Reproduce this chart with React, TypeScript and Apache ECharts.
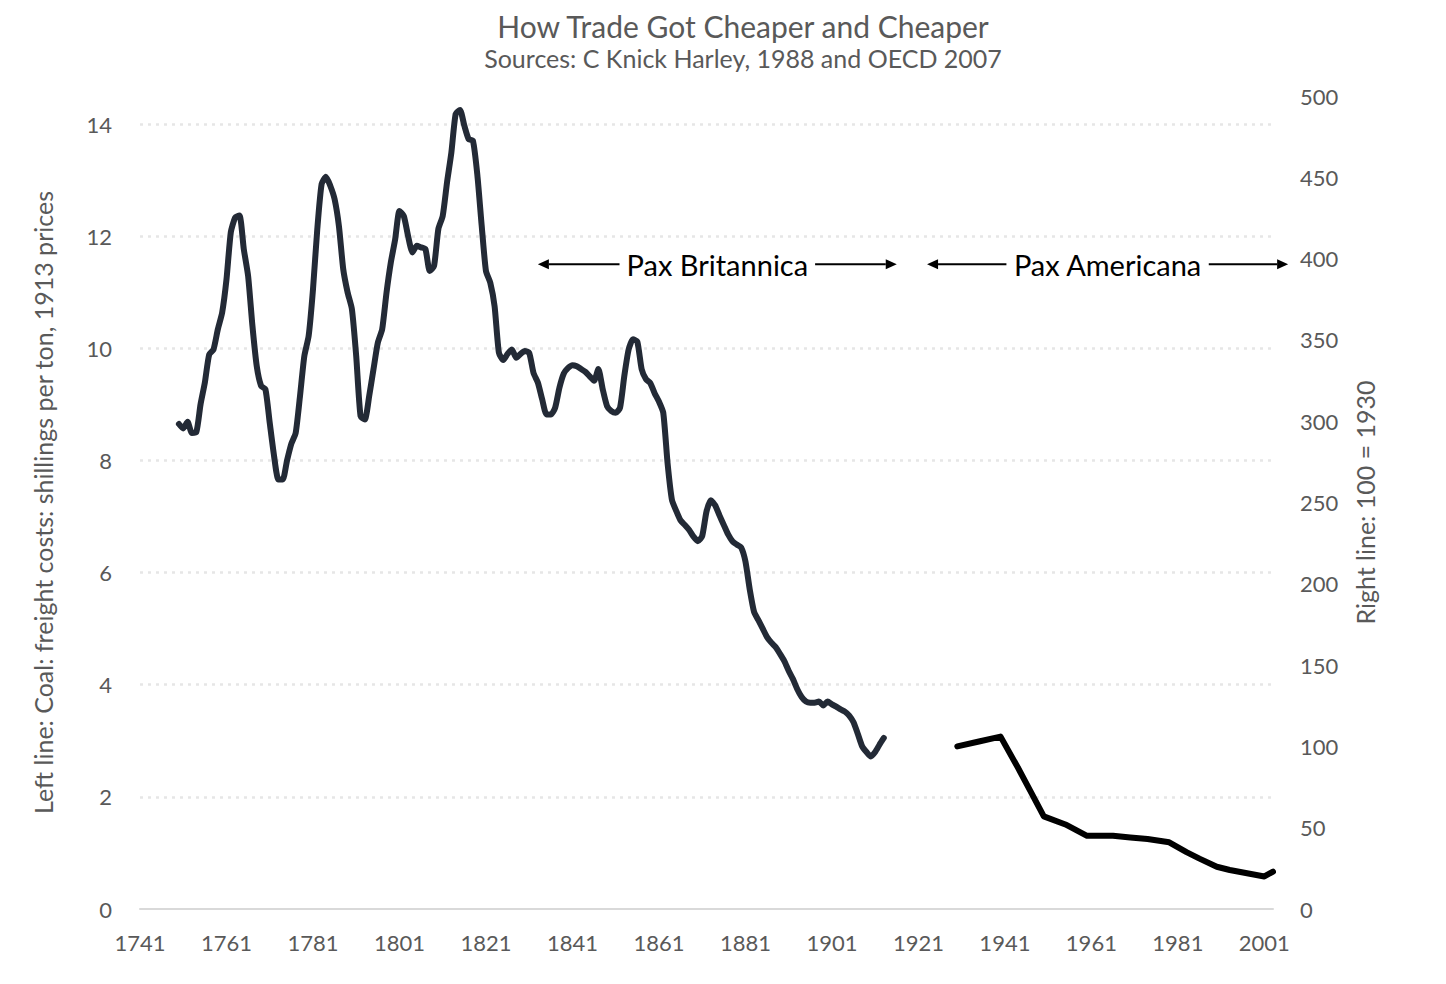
import { useEffect, useRef } from "react";
import * as echarts from "echarts";

const FONT = "Lato, 'Open Sans', sans-serif";
const GREY = "#595959";

// Coal freight costs (shillings per ton, 1913 prices), left axis
const coalYears = [
  1750, 1751, 1752, 1753, 1754, 1755, 1756, 1757, 1758, 1759,
  1760, 1761, 1762, 1763, 1764, 1765, 1766, 1767, 1768, 1769,
  1770, 1771, 1772, 1773, 1774, 1775, 1776, 1777, 1778, 1779,
  1780, 1781, 1782, 1783, 1784, 1785, 1786, 1787, 1788, 1789,
  1790, 1791, 1792, 1793, 1794, 1795, 1796, 1797, 1798, 1799,
  1800, 1801, 1802, 1803, 1804, 1805, 1806, 1807, 1808, 1809,
  1810, 1811, 1812, 1813, 1814, 1815, 1816, 1817, 1818, 1819,
  1820, 1821, 1822, 1823, 1824, 1825, 1826, 1827, 1828, 1829,
  1830, 1831, 1832, 1833, 1834, 1835, 1836, 1837, 1838, 1839,
  1840, 1841, 1842, 1843, 1844, 1845, 1846, 1847, 1848, 1849,
  1850, 1851, 1852, 1853, 1854, 1855, 1856, 1857, 1858, 1859,
  1860, 1861, 1862, 1863, 1864, 1865, 1866, 1867, 1868, 1869,
  1870, 1871, 1872, 1873, 1874, 1875, 1876, 1877, 1878, 1879,
  1880, 1881, 1882, 1883, 1884, 1885, 1886, 1887, 1888, 1889,
  1890, 1891, 1892, 1893, 1894, 1895, 1896, 1897, 1898, 1899,
  1900, 1901, 1902, 1903, 1904, 1905, 1906, 1907, 1908, 1909,
  1910, 1911, 1912, 1913,
];
const coalValues = [
  8.65, 8.57, 8.69, 8.49, 8.5, 9.0, 9.39, 9.89, 9.98, 10.34,
  10.64, 11.23, 12.07, 12.33, 12.37, 11.77, 11.29, 10.4, 9.68, 9.33,
  9.27, 8.67, 8.08, 7.66, 7.66, 8.0, 8.3, 8.49, 9.15, 9.86,
  10.22, 11.05, 12.13, 12.93, 13.06, 12.9, 12.66, 12.18, 11.41, 11.0,
  10.7, 9.86, 8.79, 8.73, 9.15, 9.63, 10.1, 10.34, 10.99, 11.53,
  11.94, 12.45, 12.36, 12.0, 11.71, 11.83, 11.8, 11.77, 11.38, 11.47,
  12.13, 12.36, 12.96, 13.49, 14.18, 14.25, 13.97, 13.73, 13.7, 13.1,
  12.2, 11.38, 11.17, 10.75, 9.92, 9.79, 9.9, 9.98, 9.83, 9.9,
  9.95, 9.92, 9.56, 9.39, 9.09, 8.82, 8.82, 8.94, 9.3, 9.55,
  9.65, 9.7, 9.68, 9.63, 9.58, 9.5, 9.42, 9.63, 9.27, 8.97,
  8.88, 8.85, 8.94, 9.51, 9.98, 10.16, 10.12, 9.63, 9.45, 9.38,
  9.2, 9.05, 8.85, 7.95, 7.3, 7.1, 6.93, 6.85, 6.76, 6.64,
  6.56, 6.65, 7.09, 7.29, 7.2, 7.02, 6.85, 6.68, 6.56, 6.5,
  6.45, 6.2, 5.7, 5.3, 5.15, 5.0, 4.85, 4.75, 4.67, 4.55,
  4.42, 4.25, 4.1, 3.92, 3.78, 3.7, 3.68, 3.68, 3.7, 3.63,
  3.7, 3.65, 3.61, 3.56, 3.52, 3.45, 3.33, 3.12, 2.9, 2.8,
  2.72, 2.8, 2.93, 3.05,
];

// Trade cost index (100 = 1930), right axis
const indexYears = [1930, 1935, 1940, 1944, 1947, 1950, 1955, 1960, 1966, 1970, 1974, 1979, 1983, 1986, 1990, 1993, 1997, 2001, 2003];
const indexValues = [100, 103, 106, 87, 72, 57, 52, 45, 45, 44, 43, 41, 35, 31, 26, 24, 22, 20, 23];

const annotationLabels = ["Pax Britannica", "Pax Americana"];
const annotationFrom = [1833, 1923];
const annotationTo = [1916, 2006.5];
const annotationLevel = 11.5;

export default function App() {
  const chartElementRef = useRef<HTMLDivElement | null>(null);

  useEffect(() => {
    if (!chartElementRef.current) return;
    const chart = echarts.init(chartElementRef.current, undefined, { renderer: "svg" });

    chart.setOption({
      animation: false,
      title: {
        text: "How Trade Got Cheaper and Cheaper",
        subtext: "Sources: C Knick Harley, 1988 and OECD 2007",
        left: 738,
        top: 6,
        textAlign: "center",
        itemGap: 4,
        textStyle: { fontFamily: FONT, fontSize: 30, fontWeight: "normal", color: GREY },
        subtextStyle: { fontFamily: FONT, fontSize: 25, color: GREY },
      },
      grid: { left: 140, right: 173, top: 96, bottom: 75 },
      xAxis: {
        type: "value",
        min: 1741,
        max: 2003,
        interval: 20,
        axisLine: { show: true, lineStyle: { color: "#d9d9d9", width: 2 } },
        axisTick: { show: false },
        splitLine: { show: false },
        axisLabel: {
          showMaxLabel: false,
          margin: 22,
          fontFamily: FONT,
          fontSize: 22,
          color: GREY,
          formatter: (v: number) => String(v),
        },
      },
      yAxis: [
        {
          type: "value",
          min: 0,
          max: 14.5,
          interval: 2,
          name: "Left line: Coal: freight costs: shillings per ton, 1913 prices",
          nameLocation: "middle",
          nameRotate: 90,
          nameGap: 85,
          nameTextStyle: { fontFamily: FONT, fontSize: 25, color: GREY },
          axisLine: { show: false },
          axisTick: { show: false },
          axisLabel: { showMaxLabel: false, margin: 28, fontFamily: FONT, fontSize: 22, color: GREY },
          splitLine: {
            show: true,
            showMinLine: false,
            showMaxLine: false,
            lineStyle: { color: "#e6e6e6", width: 2.5, type: [3, 5] },
          },
        },
        {
          type: "value",
          min: 0,
          max: 500,
          interval: 50,
          position: "right",
          name: "Right line: 100 = 1930",
          nameLocation: "middle",
          nameRotate: 90,
          nameGap: 79,
          nameTextStyle: { fontFamily: FONT, fontSize: 25, color: GREY },
          axisLine: { show: false },
          axisTick: { show: false },
          axisLabel: { margin: 27, fontFamily: FONT, fontSize: 22, color: GREY },
          splitLine: { show: false },
        },
      ],
      series: [
        {
          type: "line",
          yAxisIndex: 0,
          data: coalYears.map((y, i) => [y, coalValues[i]]),
          showSymbol: false,
          smooth: 0.2,
          lineStyle: { color: "#232a36", width: 6, cap: "round", join: "round" },
        },
        {
          type: "line",
          yAxisIndex: 1,
          data: indexYears.map((y, i) => [y, indexValues[i]]),
          showSymbol: false,
          lineStyle: { color: "#000000", width: 6, cap: "round", join: "round" },
        },
      ],
    });

    // Annotations: arrows spanning the two eras, placed through the axes
    const ctx = document.createElement("canvas").getContext("2d");
    const fontSize = 29;
    if (ctx) ctx.font = `${fontSize}px Lato`;
    const graphics: any[] = [];
    annotationLabels.forEach((label, i) => {
      const [x0, y] = chart.convertToPixel({ seriesIndex: 0 }, [annotationFrom[i], annotationLevel]);
      const [x1] = chart.convertToPixel({ seriesIndex: 0 }, [annotationTo[i], annotationLevel]);
      const cx = (x0 + x1) / 2;
      const half = (ctx ? ctx.measureText(label).width : 180) / 2;
      const gap = 7;
      const head = 11;
      graphics.push(
        { type: "line", shape: { x1: x0 + head, y1: y, x2: cx - half - gap, y2: y }, style: { stroke: "#000", lineWidth: 2 } },
        { type: "polygon", shape: { points: [[x0, y], [x0 + head, y - 5], [x0 + head, y + 5]] }, style: { fill: "#000" } },
        { type: "line", shape: { x1: cx + half + gap, y1: y, x2: x1 - head, y2: y }, style: { stroke: "#000", lineWidth: 2 } },
        { type: "polygon", shape: { points: [[x1, y], [x1 - head, y - 5], [x1 - head, y + 5]] }, style: { fill: "#000" } },
        {
          type: "text",
          x: cx,
          y: y,
          style: { text: label, fontFamily: FONT, fontSize, fill: "#000", textAlign: "center", textVerticalAlign: "middle" },
        },
      );
    });
    chart.setOption({ graphic: graphics });

    return () => {
      chart.dispose();
    };
  }, []);

  return (
    <div
      ref={chartElementRef}
      style={{ position: "fixed", left: 0, top: 0, width: 1446, height: 984, background: "#fff" }}
    />
  );
}
